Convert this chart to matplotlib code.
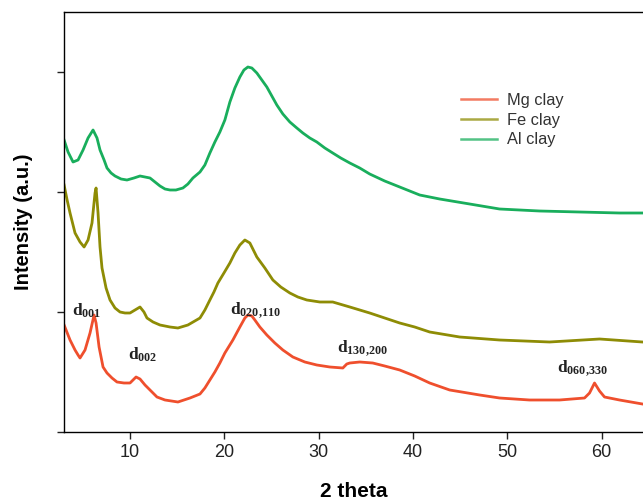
import matplotlib
matplotlib.use("Agg")
import matplotlib.pyplot as plt
from matplotlib.lines import Line2D

plt.rcParams['font.family'] = ['Liberation Sans', 'DejaVu Sans']
plt.rcParams['mathtext.fontset'] = 'custom'
plt.rcParams['mathtext.rm'] = 'Liberation Serif'
plt.rcParams['mathtext.bf'] = 'Liberation Serif:bold'

# XRD patterns (2 theta, intensity a.u.)
mg_theta = [3.01, 3.64, 4.17, 4.49, 4.70, 5.23, 5.76, 6.19, 6.40, 6.72,
            7.14, 7.56, 8.09, 8.62, 9.36, 10.0, 10.32, 10.64, 11.06, 11.59,
            12.12, 12.86, 13.71, 15.08, 16.36, 17.42, 17.94, 18.47, 19.00, 19.53,
            20.06, 20.91, 21.65, 22.18, 22.50, 22.92, 23.24, 23.77, 24.51, 25.36,
            26.21, 27.27, 28.54, 29.81, 31.19, 32.57, 32.99, 33.31, 34.36, 35.74,
            37.01, 38.60, 40.19, 41.78, 43.90, 47.08, 49.19, 52.37, 55.55, 58.20,
            58.73, 59.26, 59.79, 60.32, 61.91, 64.34]
mg_int = [1070, 920, 820, 770, 740, 820, 990, 1170, 1090, 850,
          650, 590, 540, 500, 490, 490, 520, 550, 530, 470,
          420, 350, 320, 300, 340, 380, 440, 520, 600, 690,
          790, 920, 1050, 1140, 1170, 1160, 1120, 1050, 970, 890,
          820, 750, 700, 670, 650, 640, 680, 690, 700, 690,
          660, 620, 560, 490, 420, 370, 340, 320, 320, 340,
          390, 490, 410, 350, 320, 280]

fe_theta = [3.01, 3.33, 3.64, 4.17, 4.70, 5.13, 5.55, 5.97, 6.29, 6.40,
            6.61, 6.82, 7.03, 7.46, 7.88, 8.41, 8.94, 9.47, 10.0, 10.53,
            11.06, 11.48, 11.80, 12.44, 13.18, 14.24, 15.08, 16.14, 17.42, 17.94,
            18.47, 18.90, 19.32, 19.96, 20.59, 21.12, 21.65, 22.18, 22.71, 23.45,
            24.30, 25.15, 25.99, 26.95, 27.80, 28.75, 30.13, 31.50, 33.31, 35.42,
            37.01, 38.60, 40.19, 41.78, 44.96, 49.19, 54.49, 59.79, 64.34]
fe_int = [2470, 2320, 2190, 1990, 1900, 1850, 1920, 2090, 2390, 2440,
          2190, 1850, 1640, 1440, 1320, 1240, 1200, 1190, 1190, 1220,
          1250, 1200, 1140, 1100, 1070, 1050, 1040, 1070, 1140, 1220,
          1320, 1400, 1490, 1590, 1690, 1790, 1870, 1920, 1890, 1750,
          1640, 1520, 1450, 1390, 1350, 1320, 1300, 1300, 1250, 1190,
          1140, 1090, 1050, 1000, 950, 920, 900, 930, 900]

al_theta = [3.01, 3.43, 3.96, 4.49, 5.02, 5.55, 6.08, 6.50, 6.82, 7.25,
            7.56, 7.99, 8.41, 9.05, 9.68, 10.42, 11.06, 11.59, 12.12, 12.65,
            13.18, 13.71, 14.24, 14.87, 15.61, 16.14, 16.67, 17.42, 17.94, 18.47,
            19.00, 19.53, 20.06, 20.59, 21.12, 21.65, 22.08, 22.50, 22.92, 23.45,
            23.98, 24.51, 25.04, 25.57, 26.21, 26.95, 27.69, 28.33, 29.07, 29.81,
            30.66, 31.50, 32.35, 33.31, 34.36, 35.42, 37.01, 38.60, 40.72, 42.84,
            46.02, 49.19, 53.43, 57.67, 61.91, 64.34]
al_int = [2920, 2800, 2700, 2720, 2820, 2940, 3020, 2940, 2820, 2720,
          2640, 2590, 2560, 2530, 2520, 2540, 2560, 2550, 2540, 2500,
          2460, 2430, 2420, 2420, 2440, 2480, 2540, 2600, 2670, 2790,
          2900, 3000, 3120, 3300, 3440, 3550, 3620, 3650, 3640, 3590,
          3520, 3450, 3360, 3270, 3180, 3100, 3040, 2990, 2940, 2900,
          2840, 2790, 2740, 2690, 2640, 2580, 2510, 2450, 2370, 2330,
          2280, 2230, 2210, 2200, 2190, 2190]

labels = ['Mg clay', 'Fe clay', 'Al clay']
colors = ['#ef4f2d', '#8e8c05', '#19ae5c']

# peak labels: text, 2 theta (left edge), intensity
peak_names = [r'$\mathbf{d_{001}}$', r'$\mathbf{d_{002}}$', r'$\mathbf{d_{020{,}110}}$',
              r'$\mathbf{d_{130{,}200}}$', r'$\mathbf{d_{060{,}330}}$']
peak_theta = [3.85, 9.75, 20.6, 32.0, 55.3]
peak_int = [1210, 770, 1220, 840, 640]

fig = plt.figure(figsize=(6.43, 5.0), dpi=100)
ax = fig.add_axes([64 / 643, 68 / 500, 1 - 64 / 643, 420 / 500])

ax.plot(mg_theta, mg_int, color=colors[0], lw=2.0)
ax.plot(fe_theta, fe_int, color=colors[1], lw=2.0)
ax.plot(al_theta, al_int, color=colors[2], lw=2.0)

for name, xt, yi in zip(peak_names, peak_theta, peak_int):
    ax.text(xt, yi, name, fontsize=12.5, color='#222222', ha='left', va='center')

ax.set_xlim(3.0, 64.4)
ax.set_ylim(0, 4200)
ax.set_xticks([10, 20, 30, 40, 50, 60])
ax.set_yticks([0, 1200, 2400, 3600])
ax.set_yticklabels([])
ax.tick_params(direction='out', length=5, width=1, labelsize=13, colors='#222222')
ax.spines['right'].set_visible(False)
for s in ['left', 'bottom', 'top']:
    ax.spines[s].set_linewidth(1.0)

ax.set_xlabel('2 theta', fontsize=15, fontweight='bold', labelpad=15)
ax.set_ylabel('Intensity (a.u.)', fontsize=14.5, fontweight='bold', labelpad=14)

handles = [Line2D([0], [0], color=c, lw=1.8, alpha=0.75) for c in colors]
ax.legend(handles, labels, loc='upper left', bbox_to_anchor=(0.686, 0.808),
          frameon=False, fontsize=11.8, handlelength=2.2, handletextpad=0.6,
          labelspacing=0.3, borderpad=0, borderaxespad=0, labelcolor='#333333')

fig.savefig('out.png', dpi=100)
